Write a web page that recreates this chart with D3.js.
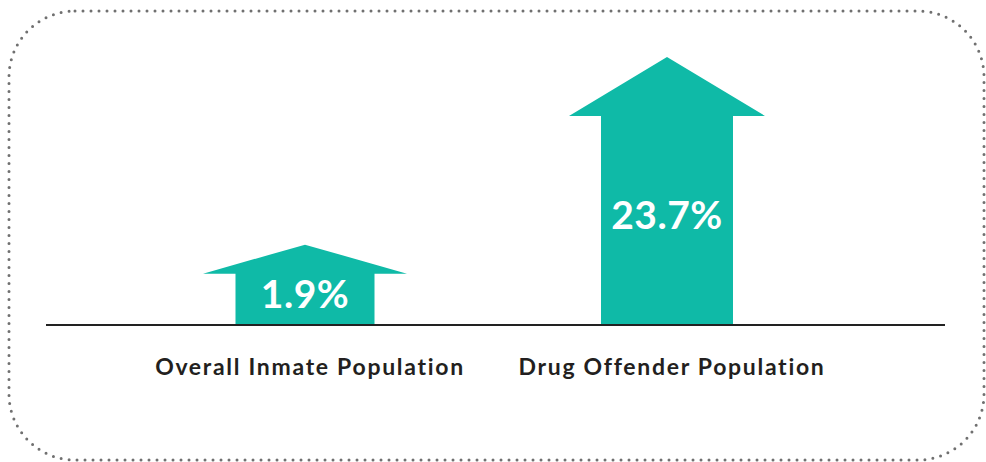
<!DOCTYPE html>
<html><head><meta charset="utf-8">
<script src="https://cdn.jsdelivr.net/npm/d3@7"></script>
<style>html,body{margin:0;padding:0;background:#fff;}svg{display:block;}</style>
</head><body>
<svg id="chart" width="986" height="462"></svg>
<script>
const categories = ["Overall Inmate Population", "Drug Offender Population"];
const values = [1.9, 23.7];
const valueLabels = ["1.9%", "23.7%"];

const W = 986, H = 462;
const svg = d3.select("#chart");
const teal = "#0fbaa7";
const baseY = 325;

// dotted rounded border
const bx0 = 9, by0 = 11, bx1 = 984, by1 = 460, r = 66;
svg.append("rect")
  .attr("x", bx0).attr("y", by0)
  .attr("width", bx1 - bx0).attr("height", by1 - by0)
  .attr("rx", r).attr("ry", r)
  .attr("fill", "none")
  .attr("stroke", "#707070")
  .attr("stroke-width", 3)
  .attr("stroke-linecap", "round")
  .attr("stroke-dasharray", "0 8");

const x = d3.scalePoint().domain(categories).range([305, 667]);
// arrow tip position
const y = d3.scaleLinear().domain([0, 23.7]).range([261, 57]);

const g = svg.append("g");
categories.forEach((c, i) => {
  const cx = x(c);
  const tip = y(values[i]);
  const total = baseY - tip;
  const headH = 16.2 + 0.1596 * total;
  const headHalf = i === 0 ? 102 : 98;
  const shaftHalf = i === 0 ? 69.5 : 66;
  const neck = tip + headH;
  const pts = [
    [cx, tip],
    [cx + headHalf, neck],
    [cx + shaftHalf, neck],
    [cx + shaftHalf, baseY],
    [cx - shaftHalf, baseY],
    [cx - shaftHalf, neck],
    [cx - headHalf, neck]
  ];
  g.append("path")
    .attr("d", d3.line()(pts) + "Z")
    .attr("fill", teal);
  g.append("text")
    .attr("x", cx)
    .attr("y", (neck + baseY) / 2 - 6)
    .attr("dominant-baseline", "central")
    .attr("text-anchor", "middle")
    .attr("fill", "#fff")
    .attr("font-family", "Lato, 'Open Sans', sans-serif")
    .attr("font-weight", "bold")
    .attr("font-size", 39)
    .attr("letter-spacing", 0.5)
    .text(valueLabels[i]);
  g.append("text")
    .attr("x", cx + 5)
    .attr("y", 375)
    .attr("text-anchor", "middle")
    .attr("fill", "#231f20")
    .attr("font-family", "Lato, 'Open Sans', sans-serif")
    .attr("font-weight", "bold")
    .attr("font-size", 23)
    .attr("letter-spacing", 1.7)
    .text(c);
});

// baseline
svg.append("line")
  .attr("x1", 46).attr("x2", 945)
  .attr("y1", baseY).attr("y2", baseY)
  .attr("stroke", "#222")
  .attr("stroke-width", 2);
</script>
</body></html>
